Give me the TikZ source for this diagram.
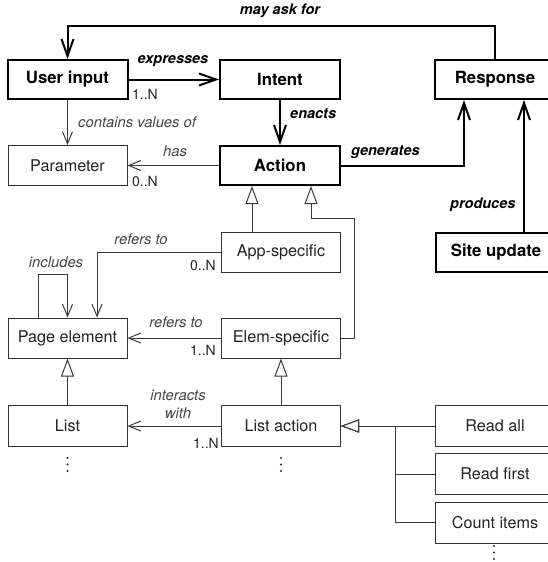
\documentclass[tikz,border=0pt]{standalone}
\usepackage{fontspec}
\setmainfont{TeX Gyre Heros}
\usetikzlibrary{arrows.meta}
\definecolor{boxgray}{HTML}{333333}
\definecolor{linegray}{HTML}{3A3A3A}
\definecolor{txtgray}{HTML}{222222}
\definecolor{lblgray}{HTML}{444444}
\begin{document}
\begin{tikzpicture}[x=1pt,y={(0pt,-1pt)},
  thinbox/.style={draw=boxgray, line width=1pt, minimum width=119pt, minimum height=40pt, inner sep=0pt, text=txtgray, font=\fontsize{16.2}{18}\selectfont},
  thickbox/.style={draw=black, line width=2pt, minimum width=120pt, minimum height=39pt, inner sep=0pt, font=\bfseries\fontsize{16.8}{19}\selectfont},
  thinline/.style={draw=linegray, line width=1pt, -{Straight Barb[length=12pt,width=10pt]}},
  thickline/.style={draw=black, line width=2pt, -{Straight Barb[length=17pt,width=12pt]}},
  gen/.style={draw=linegray, line width=1pt, -{Triangle[open,length=18pt,width=13pt,fill=white]}},
  thicklbl/.style={font=\bfseries\itshape\fontsize{14.5}{16}\selectfont, inner sep=0pt},
  thinlbl/.style={font=\itshape\fontsize{14.8}{17}\selectfont, text=lblgray, inner sep=0pt},
  mult/.style={font=\fontsize{14}{16}\selectfont, text=txtgray, inner sep=0pt},
  dotc/.style={fill=txtgray, draw=none}
]
\useasboundingbox (0,0) rectangle (548,562);
\clip (0,0) rectangle (548,562);

% boxes
\node[thickbox] (ui) at (67.5,79.5) {User input};
\node[thickbox] (intent) at (280,79.5) {Intent};
\node[thickbox] (resp) at (495,79.5) {Response};
\node[thinbox] (param) at (67.5,165.5) {Parameter};
\node[thickbox] (action) at (280,165.5) {Action};
\node[thinbox] (app) at (281,252) {App-specific};
\node[thickbox] (site) at (496,252.5) {Site update};
\node[thinbox] (pe) at (67.5,338) {Page element};
\node[thinbox] (elem) at (281,338) {Elem-specific};
\node[thinbox, minimum height=41pt] (list) at (67.5,426) {List};
\node[thinbox, minimum height=41pt] (la) at (281,426) {List action};
\node[thinbox, minimum height=41pt] (ra) at (495,426) {Read all};
\node[thinbox, minimum height=41pt] (rf) at (495,474) {Read first};
\node[thinbox, minimum height=41pt] (ci) at (495,522.5) {Count items};

% vertical ellipses
\foreach \dy in {-6.5,0,6.5} {
  \fill[dotc] (67.5,464.5+\dy) circle (1.2pt);
  \fill[dotc] (281,464.5+\dy) circle (1.2pt);
  \fill[dotc] (494,552.5+\dy) circle (1.2pt);
}

% thick connectors
\coordinate (topline) at (0,26);
\draw[thickline] (resp.north) -- (resp.north |- topline) -| (ui.north);
\node[thicklbl] (lmay) at (280,11) {may ask for};
\draw[thickline] (ui.east) -- (intent.west);
\node[thicklbl] (lexp) at (173,61) {expresses};
\node[mult] (m1) at (145,94) {1..N};
\draw[thickline] (intent.south) -- (action.north);
\node[thicklbl, anchor=west] (lena) at (290,114) {enacts};
\draw[thickline] (action.east) -| ([xshift=-31pt]resp.south);
\node[thicklbl, anchor=west] (lgen) at (351,152) {generates};
\draw[thickline] ([xshift=28pt]site.north) -- ([xshift=29pt]resp.south);
\node[thicklbl, anchor=west] (lpro) at (450,205) {produces};

% thin connectors
\draw[thinline] (ui.south) -- (param.north);
\node[thinlbl, anchor=west] (lcon) at (78,122) {contains values of};
\draw[thinline] (action.west) -- (param.east);
\node[thinlbl] (lhas) at (175,151) {has};
\node[mult] (m2) at (145,181) {0..N};

\draw[thinline] (app.west) -| ([xshift=29.5pt]pe.north);
\node[thinlbl] (lref1) at (141,239) {refers to};
\node[mult] (m3) at (203,265) {0..N};

\draw[thinline] ([xshift=-29.5pt]pe.north) -- ++(0,-43) -| (pe.north);
\node[thinlbl] (linc) at (56,262) {includes};

\draw[thinline] (elem.west) -- (pe.east);
\node[thinlbl] (lref2) at (176,322) {refers to};
\node[mult] (m4) at (203,350) {1..N};

\draw[thinline] (la.west) -- (list.east);
\node[thinlbl] (lint1) at (178,395) {interacts};
\node[thinlbl] (lint2) at (178,413) {with};
\node[mult] (m5) at (206,443) {1..N};

% generalizations
\draw[gen] ([xshift=-29pt]app.north) -- ([xshift=-28pt]action.south);
\coordinate (e1) at (354,218);
\draw[gen] (elem.east) -| (e1) -| ([xshift=31pt]action.south);
\draw[gen] (list.north) -- (pe.south);
\draw[gen] (la.north) -- (elem.south);
\draw[gen] (ra.west) -- (la.east);
\draw[gen] (rf.west) -- ++(-40,0) |- (la.east);
\draw[gen] (ci.west) -- ++(-40,0) |- (la.east);
\end{tikzpicture}
\end{document}
